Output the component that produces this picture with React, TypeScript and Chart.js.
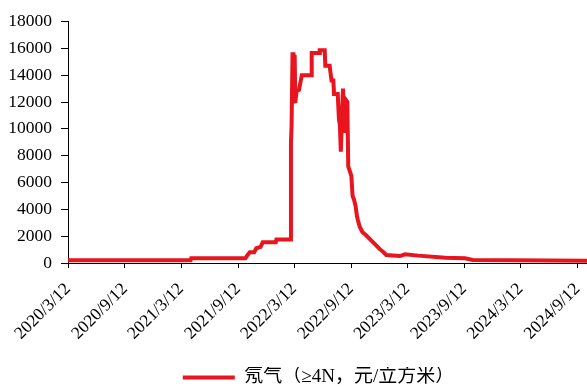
import React, { useEffect, useRef } from 'react';
import { Chart, registerables } from 'chart.js';

Chart.register(...registerables);

const seriesLabel = '氖气（≥4N，元/立方米）';

const dates = [
  '2020-03-12', '2021-04-12', '2021-04-14', '2021-10-06', '2021-10-13', '2021-10-20',
  '2021-11-03', '2021-11-10', '2021-11-24', '2021-12-01', '2022-01-12', '2022-01-14',
  '2022-02-28', '2022-03-02', '2022-03-04', '2022-03-07', '2022-03-10', '2022-03-11',
  '2022-03-14', '2022-03-16', '2022-03-20', '2022-03-28', '2022-04-06', '2022-05-06',
  '2022-05-08', '2022-06-01', '2022-06-03', '2022-06-19', '2022-06-21', '2022-07-05',
  '2022-07-07', '2022-07-11', '2022-07-17', '2022-07-19', '2022-07-31', '2022-08-04',
  '2022-08-07', '2022-08-10', '2022-08-17', '2022-08-23', '2022-08-28', '2022-08-31',
  '2022-09-03', '2022-09-13', '2022-09-17', '2022-09-22', '2022-09-27', '2022-10-01',
  '2022-10-04', '2022-10-10', '2022-10-19', '2022-10-29', '2022-11-11', '2022-11-24',
  '2022-12-03', '2022-12-13', '2022-12-26', '2023-01-04', '2023-02-17', '2023-03-05',
  '2023-04-17', '2023-07-14', '2023-09-15', '2023-10-10', '2024-10-13',
];

const values = [
  200, 200, 350, 350, 600, 800,
  800, 1100, 1200, 1550, 1550, 1750,
  1750, 9000, 10200, 15550, 15550, 11900,
  15500, 11950, 12800, 12900, 14000, 14000,
  15650, 15650, 15850, 15850, 14700, 14700,
  14300, 13600, 13600, 12600, 12600, 10700,
  10300, 8300, 13000, 9700, 12100, 12000,
  7200, 6500, 5000, 4700, 4200, 3500,
  3200, 2700, 2300, 2100, 1800, 1500,
  1300, 1050, 800, 600, 520, 650,
  550, 400, 350, 220, 170,
];

const tickDates = [
  '2020-03-12', '2020-09-12', '2021-03-12', '2021-09-12', '2022-03-12',
  '2022-09-12', '2023-03-12', '2023-09-12', '2024-03-12', '2024-09-12',
];
const tickLabels = [
  '2020/3/12', '2020/9/12', '2021/3/12', '2021/9/12', '2022/3/12',
  '2022/9/12', '2023/3/12', '2023/9/12', '2024/3/12', '2024/9/12',
];
const xStart = '2020-03-12';
const xEnd = '2024-10-13';
const yMin = 0;
const yMax = 18000;
const yStep = 2000;

const RED = '#E8141E';
const TICK_FONT = "'Times New Roman', 'Liberation Serif', serif";
const LEGEND_FONT = "'Times New Roman', 'Liberation Serif', 'Noto Sans CJK SC', serif";

function toDay(s: string): number {
  const [y, m, d] = s.split('-').map(Number);
  return Date.UTC(y, m - 1, d) / 86400000;
}

const legendShift = {
  id: 'legendShift',
  afterLayout(chart: any) {
    const lg = chart.legend;
    if (lg) {
      lg.left += 25;
      lg.right += 25;
    }
  },
};

export default function App() {
  const ref = useRef<HTMLCanvasElement | null>(null);

  useEffect(() => {
    if (!ref.current) return;
    const tickDays = tickDates.map(toDay);
    const chart = new Chart(ref.current, {
      type: 'line',
      data: {
        datasets: [
          {
            label: seriesLabel,
            data: dates.map((d, i) => ({ x: toDay(d), y: values[i] })),
            borderColor: RED,
            backgroundColor: RED,
            borderWidth: 4,
            pointRadius: 0,
            pointHoverRadius: 0,
            tension: 0,
            fill: false,
          },
        ],
      },
      plugins: [legendShift],
      options: {
        animation: false,
        responsive: false,
        devicePixelRatio: 1,
        events: [],
        layout: { padding: { left: 0, right: 0, top: 21.5, bottom: -10 } },
        plugins: {
          tooltip: { enabled: false },
          legend: {
            position: 'bottom',
            labels: {
              boxWidth: 52,
              boxHeight: 4,
              padding: 1,
              color: '#000',
              font: { family: LEGEND_FONT, size: 19 },
              generateLabels: (c: any) => {
                const items = (Chart as any).defaults.plugins.legend.labels.generateLabels(c);
                items.forEach((it: any) => {
                  it.lineWidth = 0;
                  it.fillStyle = RED;
                  it.strokeStyle = RED;
                });
                return items;
              },
            },
          },
        },
        scales: {
          x: {
            type: 'linear',
            min: toDay(xStart),
            max: toDay(xEnd),
            afterBuildTicks: (s: any) => {
              s.ticks = tickDays.map((v) => ({ value: v }));
            },
            afterFit: (s: any) => {
              s.height = 104;
              s.paddingLeft = 0;
              s.paddingRight = 0;
            },
            grid: { drawOnChartArea: false, tickLength: 5, color: '#000', lineWidth: 1 },
            border: { color: '#000', width: 1 },
            ticks: {
              autoSkip: false,
              minRotation: 45,
              maxRotation: 45,
              padding: 11,
              color: '#000',
              font: { family: TICK_FONT, size: 17.5 },
              callback: (_v: any, i: number) => tickLabels[i],
            },
          },
          y: {
            min: yMin,
            max: yMax,
            afterFit: (s: any) => {
              s.width = 68;
            },
            grid: { drawOnChartArea: false, tickLength: 7, color: '#000', lineWidth: 1 },
            border: { color: '#000', width: 1 },
            ticks: {
              stepSize: yStep,
              padding: 9,
              color: '#000',
              font: { family: TICK_FONT, size: 17.5 },
              callback: (v: any) => String(v),
            },
          },
        },
      } as any,
    });
    return () => chart.destroy();
  }, []);

  return (
    <div style={{ position: 'absolute', left: 0, top: 0, width: 587, height: 387, background: '#fff' }}>
      <canvas ref={ref} width={587} height={387} />
    </div>
  );
}
